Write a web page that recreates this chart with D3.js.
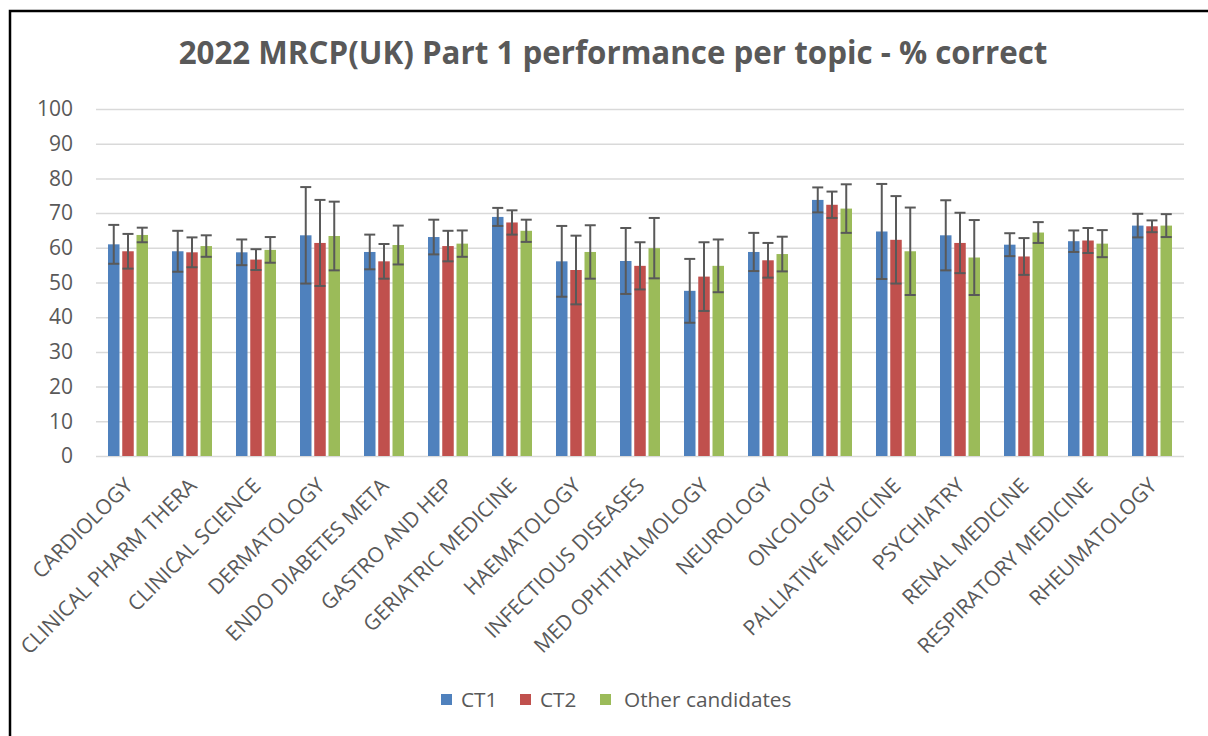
<!DOCTYPE html>
<html>
<head>
<meta charset="utf-8">
<script src="https://cdn.jsdelivr.net/npm/d3@7"></script>
<style>
  body { margin: 0; background: #fff; }
  text { font-family: "Open Sans", sans-serif; fill: #595959; }
</style>
</head>
<body>
<div id="chart"></div>
<script>
const topics = ['CARDIOLOGY', 'CLINICAL PHARM THERA', 'CLINICAL SCIENCE', 'DERMATOLOGY',
    'ENDO DIABETES META', 'GASTRO AND HEP', 'GERIATRIC MEDICINE', 'HAEMATOLOGY',
    'INFECTIOUS DISEASES', 'MED OPHTHALMOLOGY', 'NEUROLOGY', 'ONCOLOGY',
    'PALLIATIVE MEDICINE', 'PSYCHIATRY', 'RENAL MEDICINE', 'RESPIRATORY MEDICINE', 'RHEUMATOLOGY'];
const seriesNames = ['CT1', 'CT2', 'Other candidates'];

// % correct
const ct1 = [61.0, 59.0, 58.7, 63.6, 58.8, 63.1, 68.9, 56.1, 56.2, 47.6, 58.8, 73.8, 64.7, 63.6, 60.9, 61.9, 66.4];
const ct2 = [59.0, 58.7, 56.6, 61.4, 56.1, 60.5, 67.3, 53.6, 54.8, 51.7, 56.4, 72.4, 62.3, 61.4, 57.5, 62.1, 66.2];
const other = [63.7, 60.5, 59.4, 63.4, 60.8, 61.2, 64.9, 58.8, 59.9, 54.8, 58.2, 71.3, 59.0, 57.2, 64.4, 61.2, 66.4];

// error bar half-widths
const ct1Err = [5.6, 5.9, 3.7, 13.9, 5.0, 5.0, 2.6, 10.2, 9.5, 9.2, 5.5, 3.6, 13.7, 10.1, 3.3, 3.1, 3.4];
const ct2Err = [5.0, 4.3, 3.0, 12.4, 5.0, 4.4, 3.5, 9.9, 6.8, 9.9, 5.0, 3.8, 12.6, 8.7, 5.3, 3.6, 1.7];
const otherErr = [2.1, 3.1, 3.7, 9.9, 5.6, 3.8, 3.2, 7.7, 8.7, 7.6, 5.0, 7.0, 12.6, 10.8, 3.0, 3.9, 3.3];

const yTicks = [0, 10, 20, 30, 40, 50, 60, 70, 80, 90, 100];
const colors = ['#4F81BD', '#C0504D', '#9BBB59'];

const values = [ct1, ct2, other];
const errors = [ct1Err, ct2Err, otherErr];

const width = 1208;
const height = 736;
const plot = { left: 96, right: 1184, top: 109, bottom: 456 };

const svg = d3.select('#chart')
    .append('svg')
        .attr('width', width)
        .attr('height', height);

// chart frame (only top and left edges fall inside the picture)
svg.append('rect')
    .attr('x', 10).attr('y', 11)
    .attr('width', 1400).attr('height', 1000)
    .attr('fill', 'none')
    .attr('stroke', '#000')
    .attr('stroke-width', 2.5);

svg.append('text')
    .attr('x', 613)
    .attr('y', 64)
    .attr('text-anchor', 'middle')
    .attr('font-size', 31.3)
    .attr('font-weight', 'bold')
    .text('2022 MRCP(UK) Part 1 performance per topic - % correct');

const y = d3.scaleLinear()
    .domain([0, 100])
    .range([plot.bottom, plot.top]);

const x0 = d3.scaleBand()
    .domain(topics)
    .range([plot.left, plot.right])
    .paddingInner(0.375)
    .paddingOuter(0.1875);

const x1 = d3.scaleBand()
    .domain(seriesNames)
    .range([0, x0.bandwidth()])
    .paddingInner(0.193);

// gridlines + y labels
const yAxis = svg.append('g')
    .attr('transform', `translate(${plot.left}, 0)`)
    .call(d3.axisLeft(y)
        .tickValues(yTicks)
        .tickSize(-(plot.right - plot.left))
        .tickPadding(23));
yAxis.select('.domain').remove();
yAxis.selectAll('.tick line')
    .attr('stroke', '#D9D9D9')
    .attr('stroke-width', 1.5);
yAxis.selectAll('.tick text')
    .attr('font-size', 21)
    .attr('font-family', '"Open Sans", sans-serif')
    .attr('fill', '#595959');

// bars
const groups = svg.append('g')
    .selectAll('g')
    .data(topics)
    .enter()
    .append('g')
        .attr('transform', (d) => `translate(${x0(d)}, 0)`);

seriesNames.forEach((s, si) => {
    groups.append('rect')
        .attr('x', x1(s))
        .attr('y', (d, i) => y(values[si][i]))
        .attr('width', x1.bandwidth())
        .attr('height', (d, i) => y(0) - y(values[si][i]))
        .attr('fill', colors[si]);
});

// error bars
const capW = 11;
seriesNames.forEach((s, si) => {
    const cx = x1(s) + x1.bandwidth() / 2;
    const eb = groups.append('g')
        .attr('stroke', '#595959')
        .attr('stroke-width', 2);
    eb.append('line')
        .attr('x1', cx).attr('x2', cx)
        .attr('y1', (d, i) => y(values[si][i] + errors[si][i]))
        .attr('y2', (d, i) => y(values[si][i] - errors[si][i]));
    eb.append('line')
        .attr('x1', cx - capW / 2).attr('x2', cx + capW / 2)
        .attr('y1', (d, i) => y(values[si][i] + errors[si][i]))
        .attr('y2', (d, i) => y(values[si][i] + errors[si][i]));
    eb.append('line')
        .attr('x1', cx - capW / 2).attr('x2', cx + capW / 2)
        .attr('y1', (d, i) => y(values[si][i] - errors[si][i]))
        .attr('y2', (d, i) => y(values[si][i] - errors[si][i]));
});

// x labels
svg.append('g')
    .selectAll('text')
    .data(topics)
    .enter()
    .append('text')
        .attr('transform', (d) => `translate(${x0(d) + x0.bandwidth() / 2 + 6}, 487) rotate(-45)`)
        .attr('text-anchor', 'end')
        .attr('font-size', 21)
        .text((d) => d);

// legend
const legendX = [441, 520, 600];
const legendTextX = [461, 540, 624];
const legend = svg.append('g');
seriesNames.forEach((s, si) => {
    legend.append('rect')
        .attr('x', legendX[si])
        .attr('y', 694)
        .attr('width', 11)
        .attr('height', 11)
        .attr('fill', colors[si]);
    legend.append('text')
        .attr('x', legendTextX[si])
        .attr('y', 707)
        .attr('font-size', 20.8)
        .text(s);
});
</script>
</body>
</html>
